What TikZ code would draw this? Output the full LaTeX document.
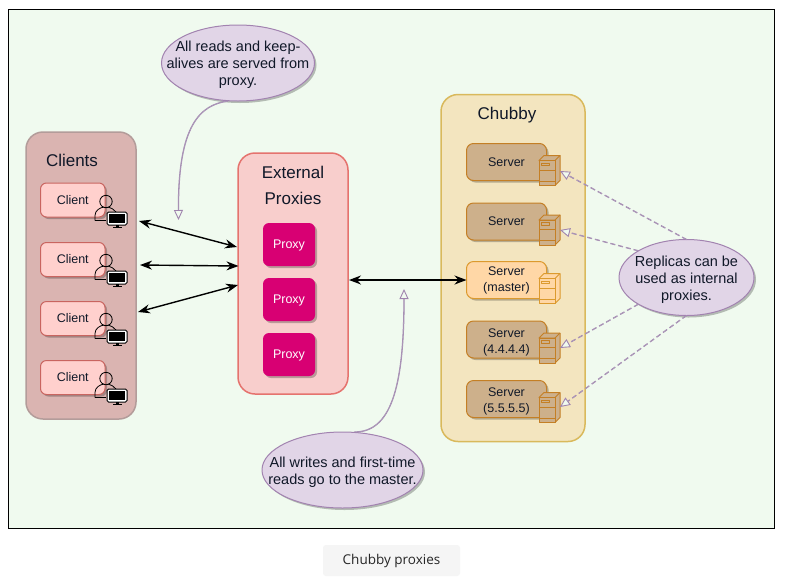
\documentclass[tikz,border=0pt]{standalone}
\usepackage{fontspec}
\setmainfont{Liberation Sans}
\newfontfamily\capfont{Open Sans}
\usetikzlibrary{arrows.meta,shadows,shapes.geometric}
\definecolor{bgc}{HTML}{F0FAEF}
\definecolor{clientbg}{HTML}{DAB4B1}
\definecolor{clientln}{HTML}{B39C9A}
\definecolor{cbox}{HTML}{FFD0CD}
\definecolor{cboxln}{HTML}{C96560}
\definecolor{proxbg}{HTML}{F8CECC}
\definecolor{proxln}{HTML}{E5736E}
\definecolor{proxy}{HTML}{D80073}
\definecolor{chubbg}{HTML}{F3E5BF}
\definecolor{chubln}{HTML}{D9B95C}
\definecolor{srv}{HTML}{CDB08B}
\definecolor{srvln}{HTML}{C47F25}
\definecolor{mst}{HTML}{FFD7A6}
\definecolor{mstln}{HTML}{DC9A2E}
\definecolor{note}{HTML}{E1D5E7}
\definecolor{noteln}{HTML}{A283B0}
\definecolor{txt}{HTML}{101828}
\definecolor{capbg}{HTML}{F5F5F5}
\definecolor{arrowln}{HTML}{9F84AE}
\tikzset{
  x=1pt,y=-1pt,
  softshadow/.style={drop shadow={shadow xshift=2pt,shadow yshift=-2pt,fill=black,opacity=.25}},
  group/.style={draw,line width=1.5pt,rounded corners=17pt,inner sep=0pt,outer sep=0pt,anchor=north west},
  clientbox/.style={draw=cboxln,fill=cbox,line width=1pt,rounded corners=6pt,minimum width=64.5pt,minimum height=34pt,inner sep=0pt,outer sep=0pt,softshadow,font=\fontsize{12.5}{15}\selectfont,text=txt,anchor=north west},
  proxybox/.style={fill=proxy,rounded corners=6pt,minimum width=52pt,minimum height=43pt,inner sep=0pt,outer sep=0pt,softshadow,font=\fontsize{12.5}{15}\selectfont,text=white,text depth=0pt,anchor=north west},
  srvbox/.style={draw=srvln,fill=srv,line width=1pt,rounded corners=7pt,minimum width=80pt,minimum height=37pt,inner sep=0pt,outer sep=0pt,softshadow,align=center,font=\fontsize{12.5}{16}\selectfont,text=txt,anchor=north west},
  mstbox/.style={srvbox,draw=mstln,fill=mst},
  notebox/.style={ellipse,draw=noteln,fill=note,line width=1pt,inner sep=0pt,outer sep=0pt,softshadow,font=\fontsize{14.5}{17}\selectfont,text=txt},
  title/.style={font=\fontsize{17}{26}\selectfont,text=txt,align=center},
  biarrow/.style={{Stealth[length=12pt,width=9pt]}-{Stealth[length=12pt,width=9pt]},line width=1.4pt,black},
  notearrow/.style={draw=arrowln,line width=.5pt,double=arrowln!70!bgc,double distance=.3pt,-{Triangle[open,length=10pt,width=9pt,line width=.9pt,color=arrowln,fill=bgc]}},
  notedash/.style={notearrow,dash pattern=on 5pt off 3pt},
}
\newcommand{\notetext}[1]{\raisebox{-5.8pt}[0pt][0pt]{\makebox[0pt][c]{\begin{tabular}{@{}c@{}}#1\end{tabular}}}}
\newcommand{\personicon}[1]{%
  \begin{scope}[shift={#1}]
    \draw[black,line width=.8pt] (0,0) circle (6.2);
    \draw[black,line width=.8pt] (-11,19) -- (-11,14) .. controls (-11,9) and (-6,6) .. (-2,5.5);
    \draw[black,line width=.8pt] (2,5.5) .. controls (5,6) and (8,8) .. (10,10.5);
    \draw[black,line width=.8pt] (-11,19) -- (0,19);
    \draw[black,fill=white,line width=1pt,rounded corners=1.5pt] (1,10.5) rectangle (21,23.5);
    \fill[black] (3,12.5) rectangle (19,21.5);
    \fill[black] (9.5,23.5) rectangle (12.5,25.5);
    \fill[black] (6.5,25.3) rectangle (15.5,26.5);
  \end{scope}}
\newcommand{\cabinet}[3]{%
  \begin{scope}[shift={#1},draw=#3,fill=#2,line width=1pt,line join=round]
    \filldraw (0,6) -- (5,1) -- (21,1) -- (21,26) -- (16,31) -- (16,6) -- cycle;
    \draw (16,6) -- (21,1);
    \filldraw (0,6) rectangle (16,31);
    \draw (0,15.5) -- (16,15.5);
    \draw (0,26.5) -- (16,26.5);
    \filldraw[line width=.7pt] (2,8.5) rectangle (10,11);
  \end{scope}}
\begin{document}
\begin{tikzpicture}
\useasboundingbox (0,0) rectangle (787,582);
\fill[white] (0,0) rectangle (787,582);
\draw[black,fill=bgc,line width=.9pt] (8.5,9.5) rectangle (774.5,528);
% groups
\node[group,fill=clientbg,draw=clientln,minimum width=110pt,minimum height=287pt] (clients) at (26,132) {};
\node[title] (clientstitle) at (72,160.5) {Clients};
\node[group,fill=proxbg,draw=proxln,minimum width=110pt,minimum height=241pt] (proxies) at (238,153) {};
\node[title] (proxtitle) at (293,185.5) {External\\Proxies};
\node[group,fill=chubbg,draw=chubln,minimum width=144pt,minimum height=347pt] (chubby) at (441,94.5) {};
\node[title] (chubtitle) at (507,115) {Chubby};
% clients
\node[clientbox] (c1) at (40.5,183) {Client};
\node[clientbox] (c2) at (40.5,242.5) {Client};
\node[clientbox] (c3) at (40.5,301.5) {Client};
\node[clientbox] (c4) at (40.5,360.5) {Client};
\personicon{(106,201.5)}
\personicon{(106,260.5)}
\personicon{(106,319.5)}
\personicon{(106,378.5)}
% proxies
\node[proxybox] (p1) at (263,223) {Proxy};
\node[proxybox] (p2) at (263,278) {Proxy};
\node[proxybox] (p3) at (263,333) {Proxy};
% servers
\node[srvbox] (s1) at (466.5,143.5) {Server};
\node[srvbox] (s2) at (466.5,203) {Server};
\node[mstbox] (s3) at (466.5,261.5) {Server\\(master)};
\node[srvbox] (s4) at (466.5,321) {\rule{0pt}{14.5pt}Server\\(4.4.4.4)};
\node[srvbox] (s5) at (466.5,380.5) {\rule{0pt}{14.5pt}Server\\(5.5.5.5)};
\cabinet{(539,154.5)}{srv}{srvln}
\cabinet{(539,214)}{srv}{srvln}
\cabinet{(539,272.5)}{mst}{mstln}
\cabinet{(539,332)}{srv}{srvln}
\cabinet{(539,391.5)}{srv}{srvln}
% notes
\node[notebox,minimum width=153pt,minimum height=76pt] (n1) at (238,63) {\notetext{All reads and keep-\\alives are served from\\proxy.}};
\node[notebox,minimum width=161pt,minimum height=76pt] (n2) at (342.5,470) {\notetext{All writes and first-time\\reads go to the master.}};
\node[notebox,minimum width=135pt,minimum height=76pt] (n3) at (686.5,277.5) {\notetext{Replicas can be\\used as internal\\proxies.}};
% connector end points
\coordinate (a1l) at (139,221);
\coordinate (a1r) at (237,247);
\coordinate (a2l) at (140,265);
\coordinate (a2r) at (238.5,266);
\coordinate (a3l) at (138,312);
\coordinate (a3r) at (238,285);
\coordinate (mainl) at (349,280);
\coordinate (mainr) at (466.5,280);
\coordinate (t1) at (178.5,220);
\coordinate (t2) at (404,289);
\coordinate (t3) at (560,171);
\coordinate (t4) at (560,230);
\coordinate (t5) at (560,348);
\coordinate (t6) at (560,407);
\draw[biarrow] (a1l) -- (a1r);
\draw[biarrow] (a2l) -- (a2r);
\draw[biarrow] (a3l) -- (a3r);
\draw[biarrow] (mainl) -- (mainr);
\draw[notearrow] (n1.south) ++(-10,0) .. controls (200,105) and (178,125) .. (t1);
\draw[notearrow] (n2.north) ++(12,0) .. controls (390,432) and (404,390) .. (t2);
\draw[notedash] (n3.north) -- (t3);
\draw[notedash] (n3.151) -- (t4);
\draw[notedash] (n3.209) -- (t5);
\draw[notedash] (n3.south) -- (t6);
% caption
\node[fill=capbg,rounded corners=3pt,minimum width=137pt,minimum height=31pt,inner sep=0pt,font=\capfont\fontsize{13.5}{16}\selectfont,text=black!85] (cap) at (391.5,560.5) {Chubby proxies};
\end{tikzpicture}
\end{document}
